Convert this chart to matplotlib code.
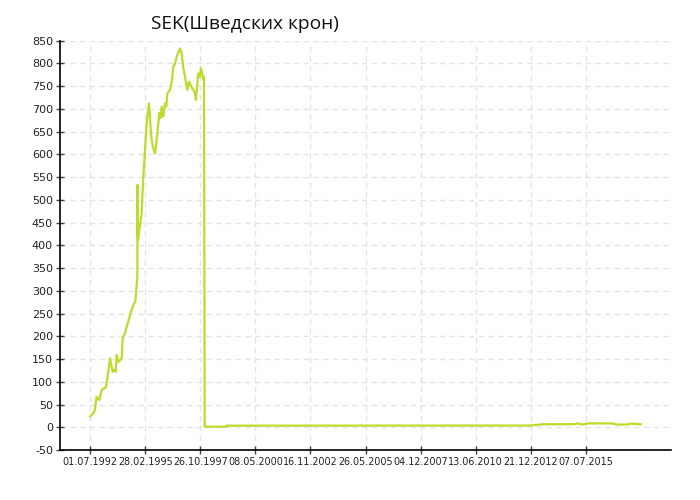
import matplotlib
matplotlib.use("Agg")
import matplotlib.pyplot as plt

# x positions are in tick-interval units (category axis, tick every fixed number of observations)
tick_labels = ["01.07.1992", "28.02.1995", "26.10.1997", "08.05.2000", "16.11.2002",
               "26.05.2005", "04.12.2007", "13.06.2010", "21.12.2012", "07.07.2015"]
tick_pos = list(range(len(tick_labels)))

x_pos = [0.000, 0.031, 0.060, 0.085, 0.100, 0.116, 0.140, 0.164, 0.185, 0.207, 0.250, 0.285,
         0.320, 0.358, 0.380, 0.406, 0.430, 0.461, 0.479, 0.509, 0.540, 0.570, 0.588, 0.625,
         0.661, 0.690, 0.721, 0.750, 0.782, 0.818, 0.830, 0.854, 0.857, 0.861, 0.867, 0.880,
         0.891, 0.910, 0.933, 0.950, 0.964, 0.994, 1.024, 1.045, 1.066, 1.085, 1.100, 1.115,
         1.140, 1.175, 1.195, 1.218, 1.254, 1.275, 1.297, 1.327, 1.357, 1.380, 1.400, 1.448,
         1.480, 1.509, 1.540, 1.569, 1.600, 1.630, 1.660, 1.690, 1.721, 1.740, 1.763, 1.790,
         1.811, 1.840, 1.872, 1.900, 1.920, 1.940, 1.963, 1.990, 2.011, 2.030, 2.054, 2.066,
         2.078, 2.466, 2.478, 7.989, 8.100, 8.225, 8.806, 8.837, 8.897, 8.952, 9.042, 9.333,
         9.497, 9.557, 9.739, 9.830, 10.000]
values = [24, 28, 32, 38, 55, 67, 62, 60, 72, 82, 85, 89,
          115, 152, 138, 122, 126, 122, 159, 144, 147, 152, 196, 205,
          221, 232, 247, 258, 269, 276, 295, 330, 533, 430, 412, 425,
          434, 450, 470, 520, 551, 610, 669, 690, 712, 683, 650, 632,
          615, 602, 620, 647, 691, 680, 705, 683, 712, 705, 734, 742,
          760, 793, 800, 815, 825, 833, 822, 790, 771, 755, 742, 760,
          756, 748, 742, 735, 720, 750, 778, 770, 789, 780, 764, 771,
          1.3, 1.3, 3.5, 3.8, 5.0, 6.6, 6.8, 8.8, 7.0, 6.0, 8.5, 8.5,
          8.2, 6.0, 6.0, 8.0, 6.5]

y_ticks = list(range(-50, 851, 50))

fig = plt.figure(figsize=(7, 5), dpi=100)
ax = fig.add_axes([60 / 700, 50 / 500, 611 / 700, 409.3 / 500])

ax.plot(x_pos, values, color="#bbdc2a", linewidth=1.6, solid_joinstyle="round")

ax.set_xlim(-0.5505, 10.55)
ax.set_ylim(-50, 850)
ax.set_yticks(y_ticks)
ax.set_yticklabels([str(v) for v in y_ticks], fontsize=8, color="#222222")
ax.set_xticks(tick_pos)
ax.set_xticklabels(tick_labels, fontsize=6.9, color="#222222")

ax.grid(True, color="#e4e4e4", linestyle=(0, (4, 3)), linewidth=1)
ax.set_axisbelow(True)
for s in ["top", "right"]:
    ax.spines[s].set_visible(False)
for s in ["left", "bottom"]:
    ax.spines[s].set_color("#000000")
    ax.spines[s].set_linewidth(1.2)
ax.tick_params(axis="both", direction="inout", length=6, width=1, color="#444444", pad=2)

fig.text(151 / 700, 1 - 24 / 500, "SEK(Шведских крон)", fontsize=13.8,
         family=["Open Sans", "DejaVu Sans"], ha="left", va="center", color="#111111")

fig.savefig("out.png", dpi=100)
